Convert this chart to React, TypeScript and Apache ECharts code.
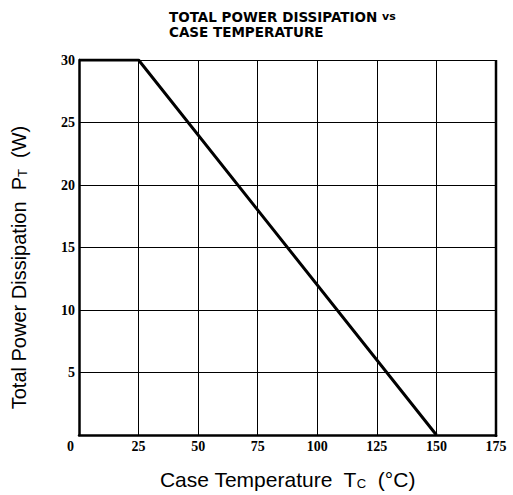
import React, { useEffect, useRef } from "react";
import * as echarts from "echarts";

const xTicks = [0, 25, 50, 75, 100, 125, 150, 175];
const yTicks = [0, 5, 10, 15, 20, 25, 30];
const caseTemp = [0, 25, 150];
const powerDiss = [30, 30, 0];

export default function App() {
  const ref = useRef<HTMLDivElement>(null);
  useEffect(() => {
    if (!ref.current) return;
    const chart = echarts.init(ref.current, null, { renderer: "svg" });
    const tickFont = {
      fontFamily: "Liberation Serif, DejaVu Serif, serif",
      fontWeight: "bold" as const,
      fontSize: 14,
      color: "#000",
    };
    const nameRich = (size: number) => ({
      n: { fontFamily: "Liberation Sans, Arial, sans-serif", fontSize: size, color: "#000" },
      s: {
        fontFamily: "Liberation Sans, Arial, sans-serif",
        fontSize: 13,
        color: "#000",
        verticalAlign: "bottom",
        padding: [7, 0, 0, 0],
      },
    });
    chart.setOption({
      animation: false,
      backgroundColor: "#fff",
      title: {
        left: 164,
        top: 4,
        text: "{a|TOTAL POWER DISSIPATION }{b|vs}\n{a|CASE TEMPERATURE}",
        textStyle: {
          rich: {
            a: {
              fontFamily: "DejaVu Sans, sans-serif",
              fontWeight: "bold",
              fontSize: 13.5,
              color: "#000",
              lineHeight: 15.5,
            },
            b: {
              fontFamily: "DejaVu Sans, sans-serif",
              fontWeight: "bold",
              fontSize: 11,
              color: "#000",
              lineHeight: 15.5,
            },
          },
        },
      },
      grid: { left: 79, right: 17, top: 60, bottom: 58 },
      xAxis: {
        type: "value",
        min: 0,
        max: 175,
        interval: 25,
        name: "{n|Case Temperature  T}{s|C}{n|  (°C)}",
        nameLocation: "middle",
        nameGap: 34,
        nameTextStyle: { rich: nameRich(21) },
        axisLine: { show: true, lineStyle: { color: "#000", width: 2.5 } },
        axisTick: { show: false },
        splitLine: { show: true, lineStyle: { color: "#000", width: 1 } },
        axisLabel: {
          ...tickFont,
          margin: 4,
          formatter: (v: number) =>
            v === 0 ? "{z|0}" : xTicks.includes(v) ? String(v) : "",
          rich: {
            z: { ...tickFont, padding: [0, 17, 0, 0] },
          },
        },
      },
      yAxis: {
        type: "value",
        min: 0,
        max: 30,
        interval: 5,
        name: "{n|Total Power Dissipation  P}{s|T}{n|  (W)}",
        nameLocation: "middle",
        nameGap: 50,
        nameTextStyle: { rich: nameRich(20), padding: [0, 40, 0, 0] },
        axisLine: { show: true, lineStyle: { color: "#000", width: 2.5 } },
        axisTick: { show: false },
        splitLine: { show: true, lineStyle: { color: "#000", width: 1.2 } },
        axisLabel: {
          ...tickFont,
          margin: 4,
          formatter: (v: number) => (v === 0 ? "" : yTicks.includes(v) ? String(v) : ""),
        },
      },
      graphic: [
        {
          type: "line",
          shape: { x1: 496, y1: 60, x2: 496, y2: 437 },
          style: { stroke: "#000", lineWidth: 2.5 },
        },
      ],
      series: [
        {
          type: "line",
          data: caseTemp.map((x, i) => [x, powerDiss[i]]),
          symbol: "none",
          lineStyle: { color: "#000", width: 3 },
        },
      ],
    });
    return () => chart.dispose();
  }, []);
  return <div ref={ref} style={{ width: 513, height: 495, position: "absolute", left: 0, top: 0 }} />;
}
